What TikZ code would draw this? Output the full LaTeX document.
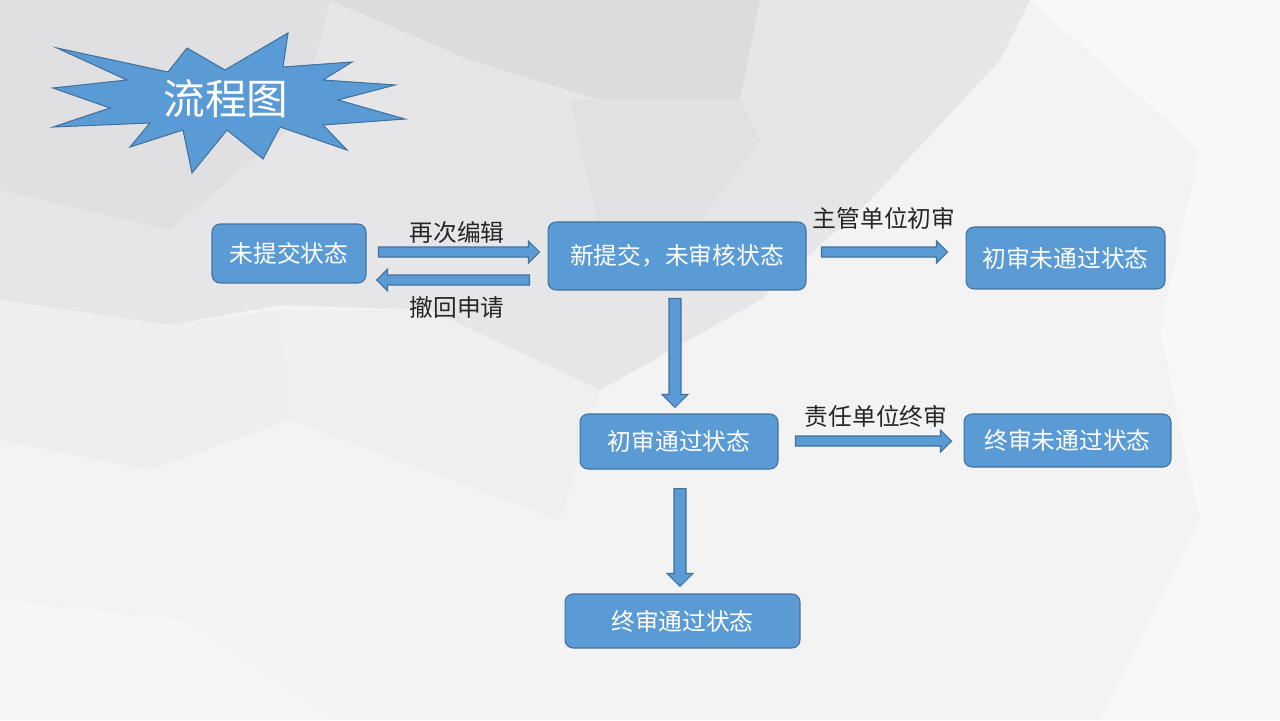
\documentclass[tikz,border=0pt]{standalone}
\usepackage{fontspec}
\newfontfamily\cjk{Noto Sans CJK SC}
\usetikzlibrary{calc}
\definecolor{boxblue}{HTML}{5B9BD5}
\definecolor{boxedge}{HTML}{41719C}
\definecolor{bgbase}{HTML}{F3F3F4}
\definecolor{bglight}{HTML}{F8F8F8}
\definecolor{bgmid}{HTML}{E6E6E8}
\definecolor{bgdark}{HTML}{DCDCDE}

\tikzset{
  state/.style={draw=boxedge, line width=0.6pt, fill=boxblue, rounded corners=0.16cm,
    text=white, inner sep=0pt, font=\cjk\fontsize{13.5}{16}\selectfont},
  lbl/.style={text=black!85, font=\cjk\fontsize{13.5}{16}\selectfont},
  barrow/.style n args={3}{draw=boxedge, line width=0.6pt, fill=boxblue,
    to path={let \p1=(\tikztostart), \p2=(\tikztotarget), \p3=($(\p2)!#3!(\p1)$) in
      ($(\p1)!#1!90:(\p2)$) -- ($(\p3)!#1!90:(\p2)$) -- ($(\p3)!#2!90:(\p2)$) -- (\p2)
      -- ($(\p3)!#2!-90:(\p2)$) -- ($(\p3)!#1!-90:(\p2)$) -- ($(\p1)!#1!-90:(\p2)$) -- cycle}},
  harrow/.style={barrow={0.1cm}{0.22cm}{0.22cm}},
  varrow/.style={barrow={0.12cm}{0.26cm}{0.26cm}}
}

\begin{document}
\begin{tikzpicture}[x=0.02cm, y=-0.02cm]

% background facets
\useasboundingbox (0,0) rectangle (1280,720);
\fill[bgbase] (0,0) rectangle (1280,720);
\fill[bgmid] (0,0) -- (1030,0) -- (1000,60) -- (870,200) -- (760,300) -- (600,390)
  -- (430,310) -- (280,305) -- (170,325) -- (0,300) -- cycle;
\fill[bgdark!60!bgmid] (0,0) -- (330,0) -- (300,120) -- (170,230) -- (0,190) -- cycle;
\fill[bgdark] (330,0) -- (760,0) -- (740,100) -- (600,100) -- (470,60) -- cycle;
\fill[bgdark!50!bgmid] (570,100) -- (740,100) -- (760,140) -- (700,220) -- (600,230) -- cycle;
\fill[bglight] (1030,0) -- (1280,0) -- (1280,720) -- (1100,720) -- (1200,520)
  -- (1160,330) -- (1200,150) -- cycle;
\fill[bgmid!40!bgbase] (0,300) -- (170,325) -- (280,310) -- (290,420) -- (150,470) -- (0,440) -- cycle;
\fill[bgmid!30!bgbase] (280,310) -- (430,310) -- (600,390) -- (560,520) -- (290,420) -- cycle;
\fill[bglight!60!bgbase] (0,600) -- (180,620) -- (330,720) -- (0,720) -- cycle;

% title star
\draw[fill=boxblue, draw=boxedge, line width=0.6pt] (57,48) -- (168,72) -- (187,48) -- (225,70)
  -- (288,33) -- (283,67) -- (352,62) -- (323,80) -- (395,85) -- (338,100) -- (405,119)
  -- (323,125) -- (347,150) -- (280,127) -- (263,159) -- (227,130) -- (192,173)
  -- (183,130) -- (130,147) -- (150,123) -- (53,127) -- (110,108) -- (53,88) -- (127,80) -- cycle;
\node[text=white, font=\cjk\fontsize{23.7}{28}\selectfont] (title) at (226,99) {流程图};

% states
\node[state, minimum width=3.08cm, minimum height=1.18cm] (unsub) at (289,253.5) {未提交状态};
\node[state, minimum width=5.16cm, minimum height=1.36cm] (newsub) at (677,256) {新提交，未审核状态};
\node[state, minimum width=3.98cm, minimum height=1.24cm] (firstno) at (1065.5,258) {初审未通过状态};
\node[state, minimum width=3.96cm, minimum height=1.10cm] (firstok) at (679,441.5) {初审通过状态};
\node[state, minimum width=4.14cm, minimum height=1.06cm] (finalno) at (1067.5,440.5) {终审未通过状态};
\node[state, minimum width=4.70cm, minimum height=1.08cm] (finalok) at (682.5,621) {终审通过状态};

% arrows
\draw[harrow] ($(unsub.east)+(12,-1.5)$) to ($(newsub.west)+(-8,-4)$);
\draw[harrow] ($(newsub.west)+(-18,24)$) to ($(unsub.east)+(10,26.5)$);
\draw[harrow] ($(newsub.east)+(15,-4)$) to ($(firstno.west)+(-18,-6)$);
\draw[varrow] ($(newsub.south)+(-2,8)$) to ($(firstok.north)+(-4,-6)$);
\draw[harrow] ($(firstok.east)+(17,-0.5)$) to ($(finalno.west)+(-12,0.5)$);
\draw[varrow] ($(firstok.south)+(1,19)$) to ($(finalok.north)+(-2.5,-7)$);

% labels
\node[lbl] (edit) at (457,232) {再次编辑};
\node[lbl] (back) at (457,307) {撤回申请};
\node[lbl] (firstrev) at (884,218) {主管单位初审};
\node[lbl] (finalrev) at (876,416) {责任单位终审};

\end{tikzpicture}
\end{document}
